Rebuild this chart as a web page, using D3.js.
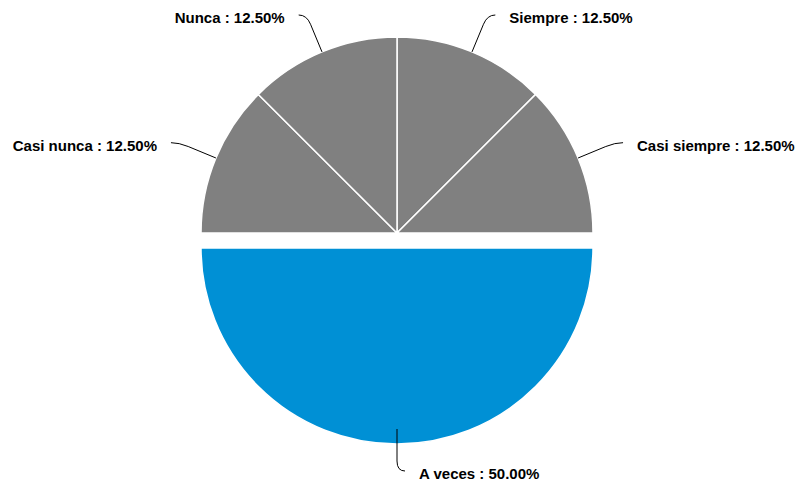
<!DOCTYPE html>
<html>
<head>
<meta charset="utf-8">
<script src="https://cdn.jsdelivr.net/npm/d3@7"></script>
<style>
  body { margin: 0; background: #fff; }
  text { font-family: "Liberation Sans", Arial, sans-serif; font-weight: bold; font-size: 15px; fill: #000; }
</style>
</head>
<body>
<div id="chart"></div>
<script>
// data
var categories = ["Siempre", "Casi siempre", "A veces", "Casi nunca", "Nunca"];
var values = [12.5, 12.5, 50, 12.5, 12.5];
var sliced = [false, false, true, false, false];

var width = 797, height = 488;
var cx = 397, cy = 233, radius = 196;
var slicedOffset = 15;

var color = function(i) { return sliced[i] ? "#0090d5" : "#808080"; };

var svg = d3.select("#chart").append("svg")
  .attr("width", width)
  .attr("height", height);

var pie = d3.pie().sort(null).value(function(d) { return d; });
var arcs = pie(values);
var arc = d3.arc().innerRadius(0).outerRadius(radius);

// slice offset (only the selected one moves out)
function offset(d, i) {
  if (!sliced[i]) return [0, 0];
  var a = (d.startAngle + d.endAngle) / 2;
  return [slicedOffset * Math.sin(a), -slicedOffset * Math.cos(a)];
}

var g = svg.append("g").attr("transform", "translate(" + cx + "," + cy + ")");

g.selectAll("path.slice")
  .data(arcs)
  .enter()
  .append("path")
    .attr("class", "slice")
    .attr("d", arc)
    .attr("transform", function(d, i) { var o = offset(d, i); return "translate(" + o[0] + "," + o[1] + ")"; })
    .style("fill", function(d, i) { return color(i); })
    .style("stroke", "#fff")
    .style("stroke-width", 1.5);

// labels + crooked connectors
var labelR = radius + 40;
var labels = arcs.map(function(d, i) {
  var a = (d.startAngle + d.endAngle) / 2;
  var dx = Math.sin(a), dy = -Math.cos(a);
  var o = offset(d, i);
  var side = dx >= -1e-6 ? 1 : -1;
  var ly = Math.max(-cy + 15, Math.min(height - cy - 17, o[1] + labelR * dy));
  var lx = o[0] + labelR * dx + side * 8;
  var E = [radius * dx, radius * dy];
  // where the radial line meets the label's y
  var t = Math.abs(dy) > 0.05 ? (ly - o[1]) / dy : labelR;
  var C = [o[0] + t * dx, ly];
  var B = [C[0] - 10 * dx, C[1] - 10 * dy];
  return { name: categories[i], value: values[i], side: side, E: E, B: B, C: C, L: [lx, ly] };
});

g.selectAll("path.connector")
  .data(labels)
  .enter()
  .append("path")
    .attr("class", "connector")
    .attr("d", function(d) {
      var p = d3.path();
      p.moveTo(d.E[0], d.E[1]);
      p.lineTo(d.B[0], d.B[1]);
      p.quadraticCurveTo(d.C[0], d.C[1], d.L[0], d.L[1]);
      return p.toString();
    })
    .style("fill", "none")
    .style("stroke", "#000")
    .style("stroke-width", 1);

g.selectAll("text.label")
  .data(labels)
  .enter()
  .append("text")
    .attr("class", "label")
    .attr("x", function(d) { return d.L[0] + d.side * 14; })
    .attr("y", function(d) { return d.L[1] + 3; })
    .attr("dy", "0.35em")
    .attr("text-anchor", function(d) { return d.side > 0 ? "start" : "end"; })
    .text(function(d) { return d.name + " : " + d3.format(".2f")(d.value) + "%"; });
</script>
</body>
</html>
